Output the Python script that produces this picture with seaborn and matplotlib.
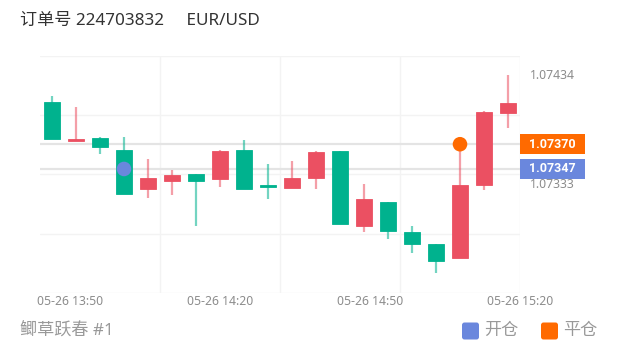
import matplotlib
matplotlib.use('Agg')
from matplotlib import pyplot as plt
from matplotlib.patches import Rectangle, FancyBboxPatch
from matplotlib.transforms import IdentityTransform
import seaborn as sns
import numpy as np
import pandas as pd

# candle data (5 min bars)
opens = [1.07409, 1.07373, 1.07376, 1.07365, 1.07328, 1.07336, 1.07342, 1.07338, 1.07365, 1.07332,
         1.07329, 1.07339, 1.07364, 1.07294, 1.07316, 1.07288, 1.07277, 1.07264, 1.07332, 1.07399]
closes = [1.07375, 1.07375, 1.07367, 1.07324, 1.07339, 1.07341, 1.07336, 1.07364, 1.07328, 1.07330,
          1.07339, 1.07363, 1.07296, 1.07319, 1.07289, 1.07277, 1.07261, 1.07332, 1.07400, 1.07408]
highs = [1.07415, 1.07405, 1.07377, 1.07377, 1.07356, 1.07346, 1.07342, 1.07365, 1.07374, 1.07352,
         1.07354, 1.07364, 1.07364, 1.07333, 1.07316, 1.07294, 1.07277, 1.07370, 1.07401, 1.07434]
lows = [1.07375, 1.07373, 1.07361, 1.07324, 1.07320, 1.07323, 1.07294, 1.07330, 1.07328, 1.07319,
        1.07329, 1.07328, 1.07296, 1.07288, 1.07282, 1.07269, 1.07250, 1.07264, 1.07327, 1.07385]

tick_pos = [0.75, 7.0, 13.25, 19.5]
tick_labels = ['05-26 13:50', '05-26 14:20', '05-26 14:50', '05-26 15:20']

open_idx, open_price = 3, 1.07347
close_idx, close_price = 17, 1.07370
price_labels = [1.07434, 1.07333]

title = '订单号 224703832     EUR/USD'
footer = '鲫草跃春 #1'
legend_labels = ['开仓', '平仓']

up_color = '#eb5062'
down_color = '#00b28e'
open_color = '#6a87dd'
close_color = '#ff6a00'

sns.set_theme(style='white')
plt.rcParams['font.family'] = ['Noto Sans', 'Noto Sans CJK SC', 'DejaVu Sans']

df = pd.DataFrame({'open': opens, 'close': closes, 'high': highs, 'low': lows})
df['x'] = np.arange(len(df))
df['up'] = df['close'] >= df['open']
df['color'] = np.where(df['up'], up_color, down_color)

fig = plt.figure(figsize=(6.2, 3.52), dpi=100)
ax = fig.add_axes([40 / 620, (352 - 292.7) / 352, 480 / 620, (292.7 - 56) / 352])

ymin, ymax = 1.07232, 1.07452
ax.set_xlim(-0.5, 19.5)
ax.set_ylim(ymin, ymax)

# grid
for gy in np.linspace(ymin, ymax, 5):
    ax.axhline(gy, color='#f3f3f3', lw=1, zorder=0)
for gx in [4.5, 9.5, 14.5, 19.5]:
    ax.axvline(gx, color='#f3f3f3', lw=1, zorder=0)

# open / close price lines
ax.axhline(open_price, color='#e4e4e4', lw=1.6, zorder=1)
ax.axhline(close_price, color='#e4e4e4', lw=1.6, zorder=1)

# wicks
ax.vlines(df['x'], df['low'], df['high'], colors=df['color'], alpha=0.55, lw=1.6, zorder=2)
# bodies
body_bottom = df[['open', 'close']].min(axis=1)
body_h = (df['close'] - df['open']).abs().clip(lower=0.000015)
ax.bar(df['x'], body_h, bottom=body_bottom, width=0.7, color=df['color'],
       edgecolor=df['color'], linewidth=0.6, zorder=3)

# open/close markers
marks = pd.DataFrame({'x': [open_idx, close_idx], 'y': [open_price, close_price], 'kind': ['open', 'close']})
sns.scatterplot(data=marks, x='x', y='y', hue='kind', palette={'open': open_color, 'close': close_color},
                s=110, edgecolor='none', legend=False, zorder=5, ax=ax)
ax.set_xlabel('')
ax.set_ylabel('')

for s in ax.spines.values():
    s.set_visible(False)
ax.set_yticks([])
ax.set_xticks(tick_pos)
ax.set_xticklabels(tick_labels, fontsize=8.8, color='#8c8c8c')
ax.tick_params(axis='x', length=0, pad=1.5)

# right side price labels
trans = ax.get_yaxis_transform()
for p in price_labels:
    ax.text(1.0667, p, f'{p:.5f}', transform=trans, ha='center', va='center',
            fontsize=8.8, color='#8c8c8c', clip_on=False)
box_h = 20 / 107.6 * 0.001
for p, c in [(close_price, close_color), (open_price, open_color)]:
    ax.add_patch(Rectangle((1.0, p - box_h / 2), 65 / 480, box_h, transform=trans,
                           facecolor=c, edgecolor='none', clip_on=False, zorder=6))
    ax.text(1.0677, p, f'{p:.5f}', transform=trans, ha='center', va='center',
            fontsize=9, color='white', fontweight='bold', family=['Roboto', 'DejaVu Sans'],
            clip_on=False, zorder=7)

fig.text(20 / 620, 1 - 21 / 352, title, fontsize=12.3, color='#333333', va='center', ha='left')
fig.text(20 / 620, 1 - 331 / 352, footer, fontsize=12.3, color='#999999', va='center', ha='left')

# legend (drawn in pixel coordinates)
for x0, c, lab in [(462, open_color, legend_labels[0]), (541, close_color, legend_labels[1])]:
    fig.add_artist(FancyBboxPatch((x0, 352 - 339.5), 17, 17, boxstyle='round,pad=0,rounding_size=2.5',
                                  transform=IdentityTransform(), facecolor=c, edgecolor='none'))
    fig.text((x0 + 22) / 620, 1 - 331 / 352, lab, fontsize=12.3, color='#999999',
             va='center', ha='left')

fig.savefig('out.png', dpi=100)
